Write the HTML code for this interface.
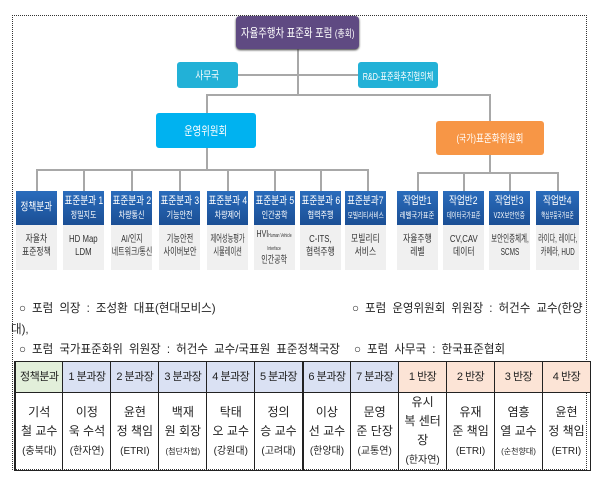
<!DOCTYPE html>
<html><head><meta charset="utf-8"><style>
body{margin:0;width:608px;height:487px;background:#fff;position:relative;overflow:hidden;font-family:"Liberation Sans","Noto Sans CJK KR",sans-serif}
.a{position:absolute}
.b{position:absolute;color:#fff;display:flex;align-items:center;justify-content:center;text-align:center;border-radius:3px;white-space:nowrap}
.c{display:inline-block;transform:scaleX(.78);white-space:nowrap;flex-shrink:0}
.hd{position:absolute;top:191px;height:34px;background:linear-gradient(#2a6cbc,#1b4f95);color:#fff;font-size:9px;line-height:11px;text-align:center;padding-top:5px;box-sizing:border-box;white-space:nowrap;display:flex;flex-direction:column;align-items:center}
.hd b{font-size:11px;margin-bottom:3px;font-weight:normal;display:flex;justify-content:center;width:100%}
.gy{position:absolute;top:225px;height:45px;background:#f0f0f0;color:#333;font-size:10px;line-height:13px;text-align:center;padding-top:8px;box-sizing:border-box;white-space:nowrap;display:flex;flex-direction:column;align-items:center}
.ln{position:absolute;background:#a8a8a8}
.t{position:absolute;font-size:12px;color:#222;white-space:nowrap;word-spacing:3px;transform:scaleX(.96);transform-origin:0 0}
table{position:absolute;left:14px;top:361px;width:577px;height:104px;border-collapse:collapse;table-layout:fixed}
td{border:1px solid #222;text-align:center;font-size:12px;color:#222;padding:0;line-height:19px;white-space:nowrap;overflow:hidden}
tr.h td{height:30px;font-size:11px;letter-spacing:-0.5px}
.g{background:#e2efda}.p{background:#dae1f3}.o{background:#fce4d6}
small{font-size:10px}
</style></head><body>
<div class="a" style="left:12px;top:15px;width:573px;height:453px;border:1.5px dotted #333"></div>
<div class="ln" style="left:297px;top:49px;width:2px;height:46px"></div>
<div class="ln" style="left:238px;top:74px;width:120px;height:2px"></div>
<div class="ln" style="left:206px;top:94px;width:285px;height:2px"></div>
<div class="ln" style="left:206px;top:94px;width:2px;height:19px"></div>
<div class="ln" style="left:489px;top:94px;width:2px;height:27px"></div>
<div class="ln" style="left:206px;top:148px;width:2px;height:22px"></div>
<div class="ln" style="left:36px;top:169px;width:333px;height:2px"></div>
<div class="ln" style="left:489px;top:155px;width:2px;height:18px"></div>
<div class="ln" style="left:417px;top:172px;width:142px;height:2px"></div>
<div class="ln" style="left:36px;top:169px;width:2px;height:22px"></div>
<div class="ln" style="left:83px;top:169px;width:2px;height:22px"></div>
<div class="ln" style="left:131px;top:169px;width:2px;height:22px"></div>
<div class="ln" style="left:179px;top:169px;width:2px;height:22px"></div>
<div class="ln" style="left:227px;top:169px;width:2px;height:22px"></div>
<div class="ln" style="left:274px;top:169px;width:2px;height:22px"></div>
<div class="ln" style="left:320px;top:169px;width:2px;height:22px"></div>
<div class="ln" style="left:367px;top:169px;width:2px;height:22px"></div>
<div class="ln" style="left:417px;top:172px;width:2px;height:19px"></div>
<div class="ln" style="left:463px;top:172px;width:2px;height:19px"></div>
<div class="ln" style="left:509px;top:172px;width:2px;height:19px"></div>
<div class="ln" style="left:557px;top:172px;width:2px;height:19px"></div>
<div class="b" style="left:236px;top:16px;width:123px;height:33px;background:#5f4a82;font-size:12px;border-radius:4px;box-shadow:0 1px 2px #333"><span class="c">자율주행차 표준화 포럼 <small>(총회)</small></span></div>
<div class="b" style="left:177px;top:62px;width:61px;height:26px;background:#22b1d7;font-size:11px"><span class="c">사무국</span></div>
<div class="b" style="left:358px;top:62px;width:80px;height:26px;background:#22b1d7;font-size:10px"><span class="c" style="transform:scaleX(.72)">R&amp;D-표준화추진협의체</span></div>
<div class="b" style="left:156px;top:113px;width:100px;height:35px;background:#00b2f0;font-size:12px"><span class="c">운영위원회</span></div>
<div class="b" style="left:436px;top:121px;width:108px;height:34px;background:#f79646;font-size:11px"><span class="c"><small>(국가)</small>표준화위원회</span></div>

<div class="hd" style="left:16px;width:41px;padding-top:11px"><b><span class="c">정책분과</span></b></div>
<div class="hd" style="left:63px;width:41px"><b><span class="c">표준분과 1</span></b><span class="c">정밀지도</span></div>
<div class="hd" style="left:111px;width:41px"><b><span class="c">표준분과 2</span></b><span class="c">차량통신</span></div>
<div class="hd" style="left:159px;width:41px"><b><span class="c">표준분과 3</span></b><span class="c">기능안전</span></div>
<div class="hd" style="left:207px;width:41px"><b><span class="c">표준분과 4</span></b><span class="c">차량제어</span></div>
<div class="hd" style="left:254px;width:41px"><b><span class="c">표준분과 5</span></b><span class="c">인간공학</span></div>
<div class="hd" style="left:300px;width:41px"><b><span class="c">표준분과 6</span></b><span class="c">협력주행</span></div>
<div class="hd" style="left:345px;width:41px"><b><span class="c">표준분과7</span></b><span class="c" style="font-size:8px;transform:scaleX(.7)">모빌리티서비스</span></div>
<div class="hd" style="left:397px;width:41px"><b><span class="c">작업반1</span></b><span class="c" style="font-size:8px">레벨국가표준</span></div>
<div class="hd" style="left:443px;width:41px"><b><span class="c">작업반2</span></b><span class="c" style="font-size:8px;transform:scaleX(.65)">데이터국가표준</span></div>
<div class="hd" style="left:489px;width:41px"><b><span class="c">작업반3</span></b><span class="c" style="font-size:8px;transform:scaleX(.7)">V2X보안인증</span></div>
<div class="hd" style="left:536px;width:43px"><b><span class="c">작업반4</span></b><span class="c" style="font-size:8px;transform:scaleX(.55)">핵심부품국가표준</span></div>

<div class="gy" style="left:16px;width:41px"><span class="c">자율차<br>표준정책</span></div>
<div class="gy" style="left:63px;width:41px"><span class="c">HD Map<br>LDM</span></div>
<div class="gy" style="left:111px;width:41px"><span class="c" style="transform:scaleX(.7)">AI/인지<br>네트워크/통신</span></div>
<div class="gy" style="left:159px;width:41px"><span class="c" style="transform:scaleX(.72)">기능안전<br>사이버보안</span></div>
<div class="gy" style="left:207px;width:41px"><span class="c" style="transform:scaleX(.62)">제어성능평가<br>시뮬레이션</span></div>
<div class="gy" style="left:254px;width:41px;padding-top:4px;line-height:12px"><span class="c" style="transform:scaleX(.7)">HVI<span style="font-size:5px">Human Vehicle</span><br><span style="font-size:5px">Interface</span><br>인간공학</span></div>
<div class="gy" style="left:300px;width:41px"><span class="c">C-ITS,<br>협력주행</span></div>
<div class="gy" style="left:345px;width:41px"><span class="c">모빌리티<br>서비스</span></div>
<div class="gy" style="left:397px;width:41px"><span class="c">자율주행<br>레벨</span></div>
<div class="gy" style="left:443px;width:41px"><span class="c">CV,CAV<br>데이터</span></div>
<div class="gy" style="left:489px;width:41px"><span class="c" style="transform:scaleX(.65)">보안인증체계,<br>SCMS</span></div>
<div class="gy" style="left:536px;width:43px"><span class="c" style="transform:scaleX(.62)">라이다, 레이다,<br>카메라, HUD</span></div>

<div class="t" style="left:19px;top:299px">○ 포럼 의장 : 조성환 대표(현대모비스)</div>
<div class="t" style="left:352px;top:299px">○ 포럼 운영위원회 위원장 : 허건수 교수(한양</div>
<div class="t" style="left:11px;top:320px">대),</div>
<div class="t" style="left:19px;top:340px">○ 포럼 국가표준화위 위원장 : 허건수 교수/국표원 표준정책국장</div>
<div class="t" style="left:354px;top:340px">○ 포럼 사무국 : 한국표준협회</div>

<table>
<tr class="h"><td class="g" style="border-left:2px solid #222">정책분과</td><td class="p">1 분과장</td><td class="p">2 분과장</td><td class="p">3 분과장</td><td class="p">4 분과장</td><td class="p">5 분과장</td><td class="p" style="border-left:2px solid #222">6 분과장</td><td class="p">7 분과장</td><td class="o">1 반장</td><td class="o">2 반장</td><td class="o">3 반장</td><td class="o">4 반장</td></tr>
<tr><td style="border-left:2px solid #222">기석<br>철 교수<br><small>(충북대)</small></td><td>이정<br>욱 수석<br><small>(한자연)</small></td><td>윤현<br>정 책임<br><small>(ETRI)</small></td><td>백재<br>원 회장<br><small style="font-size:8px">(첨단차협)</small></td><td>탁태<br>오 교수<br><small>(강원대)</small></td><td>정의<br>승 교수<br><small>(고려대)</small></td><td style="border-left:2px solid #222">이상<br>선 교수<br><small>(한양대)</small></td><td>문영<br>준 단장<br><small>(교통연)</small></td><td>유시<br>복 센터<br>장<br><small>(한자연)</small></td><td>유재<br>준 책임<br><small>(ETRI)</small></td><td>염흥<br>열 교수<br><small style="font-size:8px">(순천향대)</small></td><td>윤현<br>정 책임<br><small>(ETRI)</small></td></tr>
</table>
</body></html>
